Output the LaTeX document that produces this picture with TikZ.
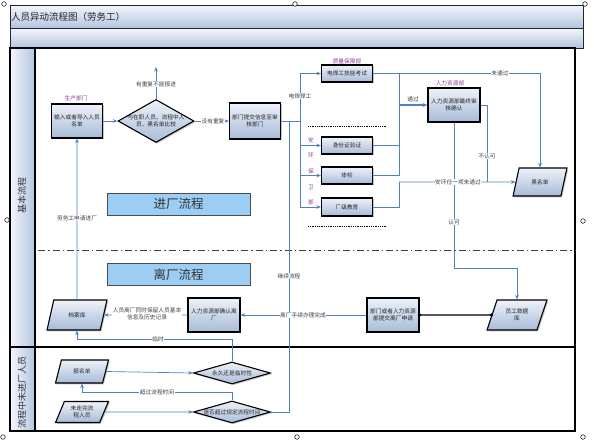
\documentclass[tikz,border=0pt]{standalone}
\usepackage{fontspec}
\setmainfont{Noto Sans CJK SC}
\usetikzlibrary{shapes.geometric,arrows.meta,shadows}
\definecolor{connc}{HTML}{4F81BD}
\definecolor{boxtop}{HTML}{EEF2F9}
\definecolor{boxbot}{HTML}{A7BBD8}
\definecolor{purp}{HTML}{8E3A9E}
\definecolor{bigfill}{HTML}{9BCDF5}
\definecolor{hdrA}{HTML}{F3F6FB}
\definecolor{hdrB}{HTML}{B2C5E1}
\tikzset{
  sm/.style={font=\fontsize{5.7}{6.9}\selectfont},
  shad/.style={drop shadow={shadow xshift=1.3pt,shadow yshift=-1.3pt,fill=black,opacity=0.22}},
  proc/.style={rectangle, draw=black, line width=1.1pt, top color=boxtop, bottom color=boxbot,
    align=center, inner sep=0pt, sm, text=black!85, shad},
  decision/.style={diamond, draw=black, line width=1.1pt, top color=boxtop, bottom color=boxbot,
    inner sep=0pt, shad},
  datab/.style={trapezium, trapezium left angle=65, trapezium right angle=115, trapezium stretches=true,
    draw=black, line width=1.1pt, top color=boxtop, bottom color=boxbot, align=center, inner sep=0pt,
    sm, text=black!85, shad},
  conn/.style={draw=connc, line width=0.7pt},
  arr/.style={conn, -{Stealth[length=4.5pt,width=3.6pt]}},
  lab/.style={sm, fill=white, inner sep=0.6pt, text=black!75, align=center},
  plab/.style={sm, text=purp},
  big/.style={rectangle, draw=black!70, line width=0.8pt, fill=bigfill, minimum width=143pt,
    minimum height=22pt, font=\fontsize{12.5}{13}\selectfont, text=black!80, inner sep=0pt},
  lanet/.style={font=\fontsize{9}{10}\selectfont, text=black!80, rotate=90},
  handle/.style={draw=black, fill=white, line width=0.5pt}
}
\begin{document}
\begin{tikzpicture}[x=1pt,y=-1pt]
\useasboundingbox (0,0) rectangle (594,440);
% header bands
\path[top color=hdrA, bottom color=hdrB, draw=black!85, line width=1pt] (10,5) rectangle (583,28);
\path[top color=hdrA, bottom color=hdrB, draw=black!85, line width=1pt] (10,28) rectangle (583,48);
\node[anchor=west, font=\fontsize{9.5}{10}\selectfont, text=black!85, inner sep=1pt] (title) at (10,16.5) {人员异动流程图（劳务工）};
% lane header column
\path[left color=hdrA, right color=hdrB] (10,48) rectangle (35,347);
\path[left color=hdrA, right color=hdrB] (10,347) rectangle (35,431);
\draw[line width=1.2pt] (10,48) rectangle (575,431);
\draw[line width=1.1pt] (35,48) -- (35,431);
\draw[line width=1.4pt] (10,347) -- (575,347);
\node[lanet] (lane1) at (22,195) {基本流程};
\node[lanet] (lane2) at (22,392) {流程中未进厂人员};
% separators
\draw[black!75, line width=1pt, dash pattern=on 7pt off 3pt on 1.5pt off 3pt] (38,250) -- (575,250);
\draw[densely dotted, line width=0.8pt] (308,126) -- (387,126);
\draw[densely dotted, line width=0.8pt] (308,226) -- (387,226);
% big labels
\node[big] (inflow) at (178.5,204) {进厂流程};
\node[big] (outflow) at (178.5,274.5) {离厂流程};
% nodes
\node[proc, minimum width=51pt, minimum height=34pt] (inp) at (77,121) {输入或者导入人员\\名单};
\node[decision, minimum width=76pt, minimum height=43pt] (cmp) at (156,121) {};
\node[sm, align=center, text=black!85] (cmpt) at (156,121) {与在职人员、流程中人\\员、黑名单比较};
\node[proc, minimum width=51pt, minimum height=36pt] (sub) at (255,121) {部门提交信息至审\\核部门};
\node[proc, minimum width=51pt, minimum height=17pt] (weld) at (347,73.5) {电焊工技能考试};
\node[proc, minimum width=51pt, minimum height=17pt] (idv) at (347,145.5) {身份证验证};
\node[proc, minimum width=51pt, minimum height=17pt] (phy) at (347,175.5) {体检};
\node[proc, minimum width=51pt, minimum height=18pt] (edu) at (347,207) {厂级教育};
\node[proc, minimum width=52pt, minimum height=34pt] (hr) at (454,105) {人力资源部最终审\\核确认};
\node[datab, minimum width=54pt, minimum height=28pt] (blk) at (540,182) {黑名单};
\node[datab, minimum width=60pt, minimum height=30pt] (db) at (517,315) {员工数据\\库};
\node[proc, minimum width=52pt, minimum height=34pt] (lv) at (393,315) {部门或者人力资源\\部提交离厂申请};
\node[proc, minimum width=52pt, minimum height=34pt] (hrlv) at (214,315) {人力资源部确认离\\厂};
\node[datab, minimum width=60pt, minimum height=30pt] (arc) at (77,315) {档案库};
\node[datab, minimum width=53pt, minimum height=23pt] (reg) at (82,371.5) {报名单};
\node[datab, minimum width=53pt, minimum height=21pt] (unf) at (82,412) {未走完流\\程人员};
\node[decision, minimum width=77pt, minimum height=22pt] (perm) at (232,373) {};
\node[sm, text=black!85] (permt) at (232,373) {永久还是临时性};
\node[decision, minimum width=77pt, minimum height=22pt] (over) at (232,412) {};
\node[sm, text=black!85] (overt) at (232,412) {是否超过规定流程时间};
% purple department labels
\node[plab] (p1) at (76,98) {生产部门};
\node[plab] (p2) at (347,61) {质量保障部};
\node[plab] (p3) at (450,83) {人力资源部};
\node[plab] (p4) at (311,140) {安};
\node[plab] (p5) at (311,155.5) {环};
\node[plab] (p6) at (311,171) {保};
\node[plab] (p7) at (311,187) {卫};
\node[plab] (p8) at (311,202.5) {部};
% junction coordinates
\coordinate (top1) at (156,67);
\coordinate (j1) at (300,121);
\coordinate (j2) at (399,105);
\coordinate (j3) at (399,182);
\coordinate (j4) at (487,182);
\coordinate (j5) at (454,268);
\coordinate (j6) at (232,339);
\coordinate (j7) at (232,392);
\coordinate (j8) at (289,412);
\coordinate (j9) at (289,121);
% connectors
\draw[arr] (inp.east) -- (cmp.west);
\draw[arr] (cmp.north) -- (top1);
\draw[arr] (cmp.east) -- (sub.west);
\draw[conn] (sub.east) -- (j1);
\draw[arr] (j1) |- (weld.west);
\draw[arr] (j1) |- (idv.west);
\draw[arr] (j1) |- (phy.west);
\draw[arr] (j1) |- (edu.west);
\draw[arr] (weld.east) -| (blk.north);
\draw[conn] (weld.east) -| (j2);
\draw[conn] (idv.east) -| (j2);
\draw[conn] (phy.east) -| (j2);
\draw[conn] (edu.east) -| (j3);
\draw[conn, line width=1.3pt, -{Stealth[length=5pt,width=4pt]}] (j2) -- (hr.west);
\draw[arr] (j3) -- (blk.west);
\draw[conn] (hr.east) -| (j4);
\draw[arr] (hr.south) -- (j5) -| (db.north);
\draw[black, line width=1.1pt] (lv.east) -- (db.west);
\fill (lv.east) circle (1.9);
\fill (db.west) circle (1.9);
\draw[arr] (lv.west) -- (hrlv.east);
\draw[arr] (hrlv.west) -- (arc.east);
\draw[arr] (arc.north) -- (inp.south);
\draw[arr] (perm.north) -- (j6) -| (arc.south);
\draw[arr] (reg.east) -- (perm.west);
\draw[arr] (unf.east) -- (over.west);
\draw[arr] (over.north) -- (j7) -| (reg.south);
\draw[conn] (over.east) -- (j8) -- (j9);
% connector labels
\node[lab] (l1) at (156,84) {有重复不能报进};
\node[lab] (l2) at (213,121) {没有重复};
\node[lab] (l3) at (300,96) {电焊焊工};
\node[lab] (l4) at (500,73.5) {未通过};
\node[lab, fill=none] (l5) at (413,99) {通过};
\node[lab] (l6) at (458,182) {安环任一项未通过};
\node[lab] (l7) at (487,156) {不认可};
\node[lab] (l8) at (454,222) {认可};
\node[lab] (l9) at (303,315) {离厂手续办理完成};
\node[lab] (l10) at (147,314) {人员离厂同时保留人员基本\\信息及历史记录};
\node[lab] (l11) at (77,218) {劳务工申请进厂};
\node[lab] (l12) at (158,339) {临时};
\node[lab] (l13) at (157,392) {超过流程时间};
\node[lab] (l14) at (289,276) {继续流程};
% selection handles
\foreach \p in {(4,4),(295,4),(585,4),(7,220),(583,221),(3,437),(297,437),(583,437)}
  \draw[handle] \p circle (2.3);
\end{tikzpicture}
\end{document}
